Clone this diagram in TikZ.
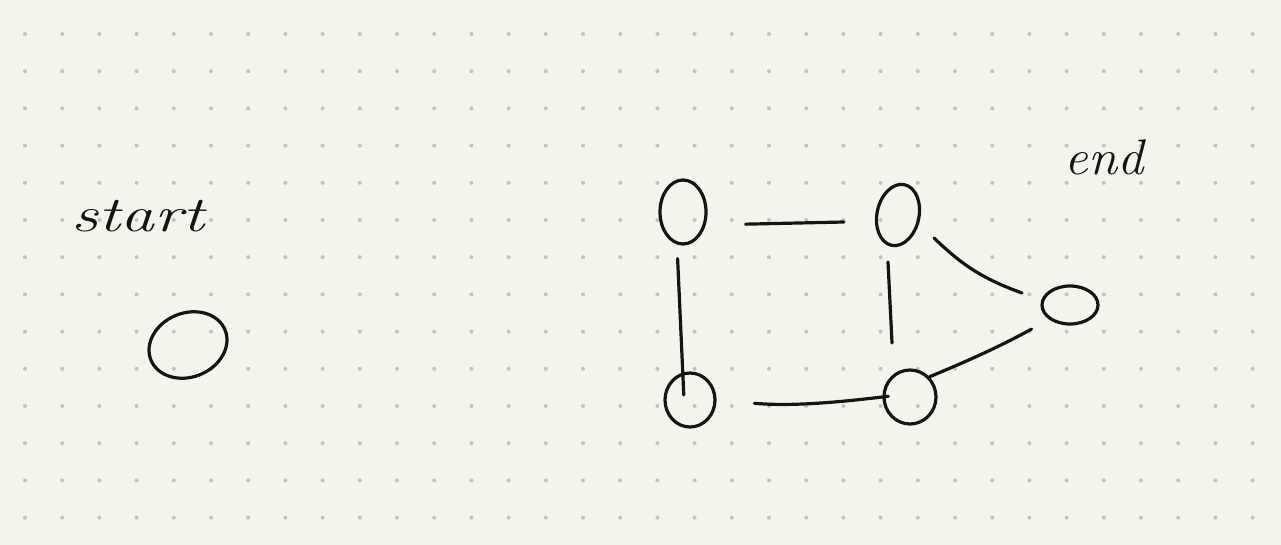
\documentclass[tikz,border=0pt]{standalone}
\usetikzlibrary{shapes.geometric}
\definecolor{paper}{HTML}{F5F4EC}
\definecolor{griddot}{HTML}{C4C3BB}
\definecolor{ink}{HTML}{141414}
\begin{document}
\begin{tikzpicture}[x=1pt,y=-1pt,
  vertex/.style={ellipse,draw=ink,line width=3.2pt,inner sep=0pt},
  link/.style={draw=ink,line width=3.2pt,line cap=round},
  hand/.style={text=ink,font=\fontsize{50}{50}\selectfont\itshape,inner sep=0pt}]
\fill[paper] (0,0) rectangle (1281,545);
\useasboundingbox (0,0) rectangle (1281,545);
\foreach \i in {0,...,33}{
  \foreach \j in {0,...,13}{
    \fill[griddot] (25+37.2*\i,34+37.2*\j) circle (2);
  }
}
% nodes
\node[vertex,minimum width=80,minimum height=64,rotate=22] (s) at (188,345) {};
\node[vertex,minimum width=46,minimum height=64] (a) at (683,212) {};
\node[vertex,minimum width=42,minimum height=62,rotate=-12] (b) at (898,215) {};
\node[vertex,minimum width=56,minimum height=38] (e) at (1070,305) {};
\node[vertex,minimum width=50,minimum height=54] (c) at (690,400) {};
\node[vertex,minimum width=52,minimum height=54] (d) at (910,397) {};
% labels
\node[hand,xscale=1.35] (ls) at (138,216) {start};
\node[hand,xscale=1.05] (le) at (1104,157) {end};
% connectors
\draw[link,shorten <=38pt,shorten >=32pt] ([yshift=-13pt]a.east) -- ([yshift=-11pt]b.west);
\draw[link,shorten <=13pt,shorten >=5pt] ([xshift=-6pt]a.south) -- ([xshift=-6pt]c.center);
\draw[link] ([xshift=-10pt,yshift=-47pt]b.center) -- ([xshift=-18pt,yshift=54pt]d.center);
\draw[link] ([xshift=36pt,yshift=-23pt]b.center) to[bend right=12] ([xshift=-48pt,yshift=12pt]e.center);
\draw[link,shorten <=20pt,shorten >=0pt] (e.south west) to[bend left=3] (d.north east);
\draw[link,shorten <=38pt,shorten >=-6pt] (c.east) to[bend right=6] (d.west);
\end{tikzpicture}
\end{document}
